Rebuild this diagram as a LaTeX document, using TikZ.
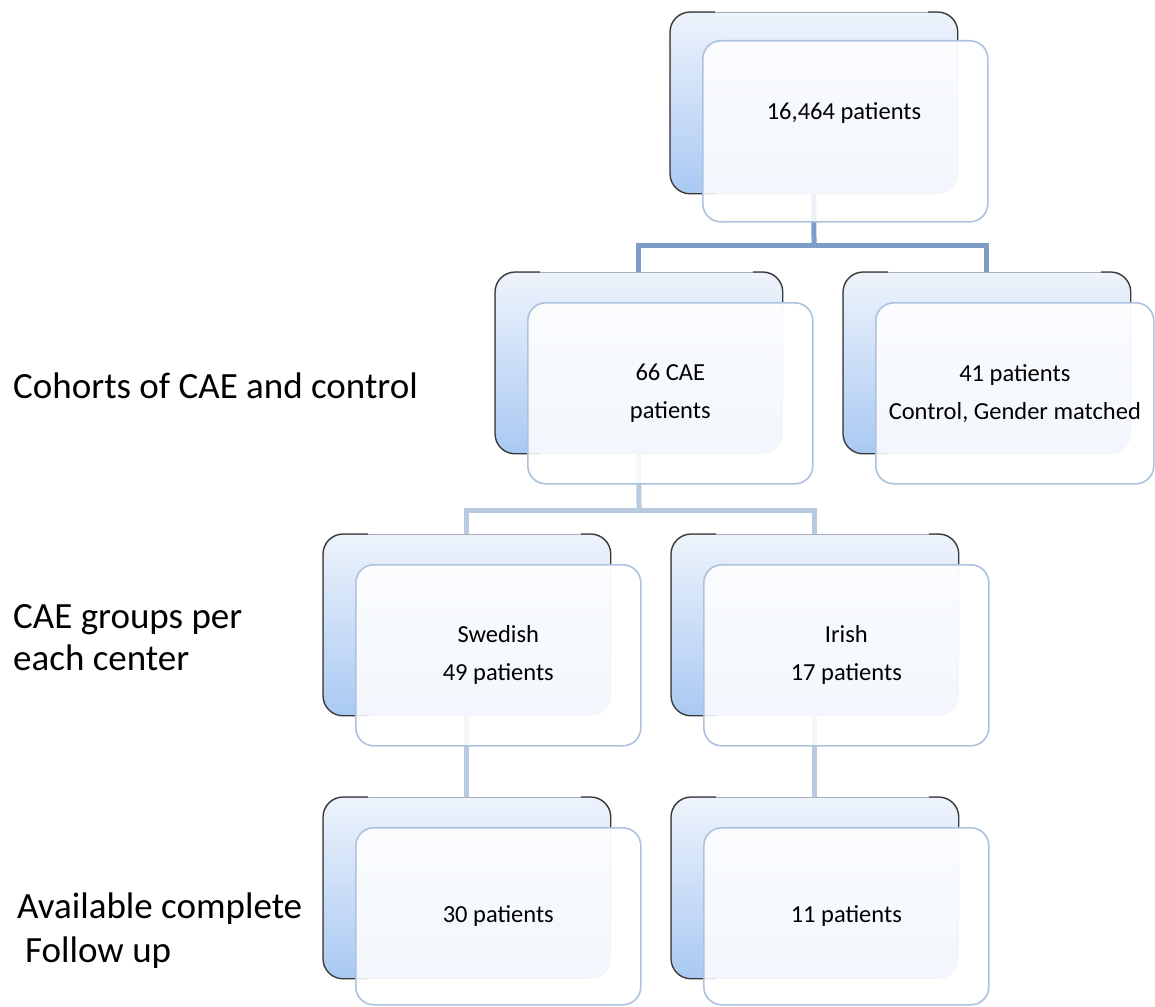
\documentclass[tikz,border=0pt]{standalone}
\usepackage{fontspec}
\setmainfont{Carlito}
\definecolor{backtop}{HTML}{EEF3FB}
\definecolor{backbot}{HTML}{A9C9F3}
\definecolor{backedge}{HTML}{383838}
\definecolor{backlight}{HTML}{A8B0BC}
\definecolor{frontedge}{HTML}{ADC2DE}
\definecolor{connA}{HTML}{7D9DC8}
\definecolor{connB}{HTML}{B8CAE0}
\newcommand{\boxfont}{\fontsize{24.5}{38}\selectfont}
\newcommand{\sidefont}{\fontsize{37}{43}\selectfont}
\tikzset{
  backbox/.style={draw=backlight, line width=0.8pt, rounded corners=20pt,
    minimum width=287pt, minimum height=181pt, top color=backtop,
    bottom color=backbot, anchor=north west, inner sep=0pt},
  backdark/.style={draw=backedge, line width=1.3pt, rounded corners=20pt},
  frontbox/.style={draw=frontedge, line width=1.6pt, rounded corners=18pt,
    fill=white, fill opacity=0.86, text opacity=1, minimum width=285pt,
    minimum height=181pt, anchor=north west, inner sep=0pt, align=center,
    font=\boxfont},
  connone/.style={draw=connA, line width=5pt},
  conntwo/.style={draw=connB, line width=5pt},
  sidelabel/.style={anchor=base west, inner sep=0pt, font=\sidefont},
}
\newcommand{\darkedges}[1]{%
  \draw[backdark] ([xshift=45pt]#1.north west) -- (#1.north west) -- (#1.south west) -- ([xshift=45pt]#1.south west);
  \draw[backdark] ([xshift=-30pt]#1.north east) -- (#1.north east) -- ([yshift=-30pt]#1.north east);
}
\begin{document}
\begin{tikzpicture}[x=1pt,y=-1pt]
\useasboundingbox[fill=white] (0,0) rectangle (1155,1006);

% back boxes
\node[backbox] (b1)  at (670,12) {};
\node[backbox] (b2l) at (495,272) {};
\node[backbox] (b2r) at (843,272) {};
\node[backbox] (b3l) at (323,534) {};
\node[backbox] (b3r) at (671,534) {};
\node[backbox] (b4l) at (323,797) {};
\node[backbox] (b4r) at (671,797) {};
\foreach \b in {b1,b2l,b2r,b3l,b3r,b4l,b4r}{\darkedges{\b}}

% connectors
\coordinate (j1) at (814,245);
\coordinate (j2) at (639,510);
\draw[connone] (b1.south) -- (j1);
\draw[connone] (j1) -| (b2l.north);
\draw[connone] (j1) -| (b2r.north);
\draw[conntwo] (b2l.south) -- (j2);
\draw[conntwo] (j2) -| (b3l.north);
\draw[conntwo] (j2) -| (b3r.north);
\draw[conntwo] (b3l.south) -- (b4l.north);
\draw[conntwo] (b3r.south) -- (b4r.north);

% front boxes
\node[frontbox] (f1)  at (702,40) {};
\node[frontbox] (f2l) at (527,302) {66 CAE\\patients};
\node[frontbox, minimum width=278pt] (f2r) at (875,302) {41 patients\\Control, Gender matched};
\node[frontbox] (f3l) at (355,564) {Swedish\\49 patients};
\node[frontbox] (f3r) at (703,564) {Irish\\17 patients};
\node[frontbox, minimum height=177pt] (f4l) at (355,827) {30 patients};
\node[frontbox, minimum height=177pt] (f4r) at (703,827) {11 patients};
\node[font=\boxfont, inner sep=0pt] (t1) at (844,113) {16,464 patients};

% side labels
\node[sidelabel] (s1) at (13,398) {Cohorts of CAE and control};
\node[sidelabel] (s2a) at (13,628) {CAE groups per};
\node[sidelabel] (s2b) at (13,670) {each center};
\node[sidelabel] (s3a) at (17,918) {Available complete};
\node[sidelabel] (s3b) at (25,962) {Follow up};
\end{tikzpicture}
\end{document}
